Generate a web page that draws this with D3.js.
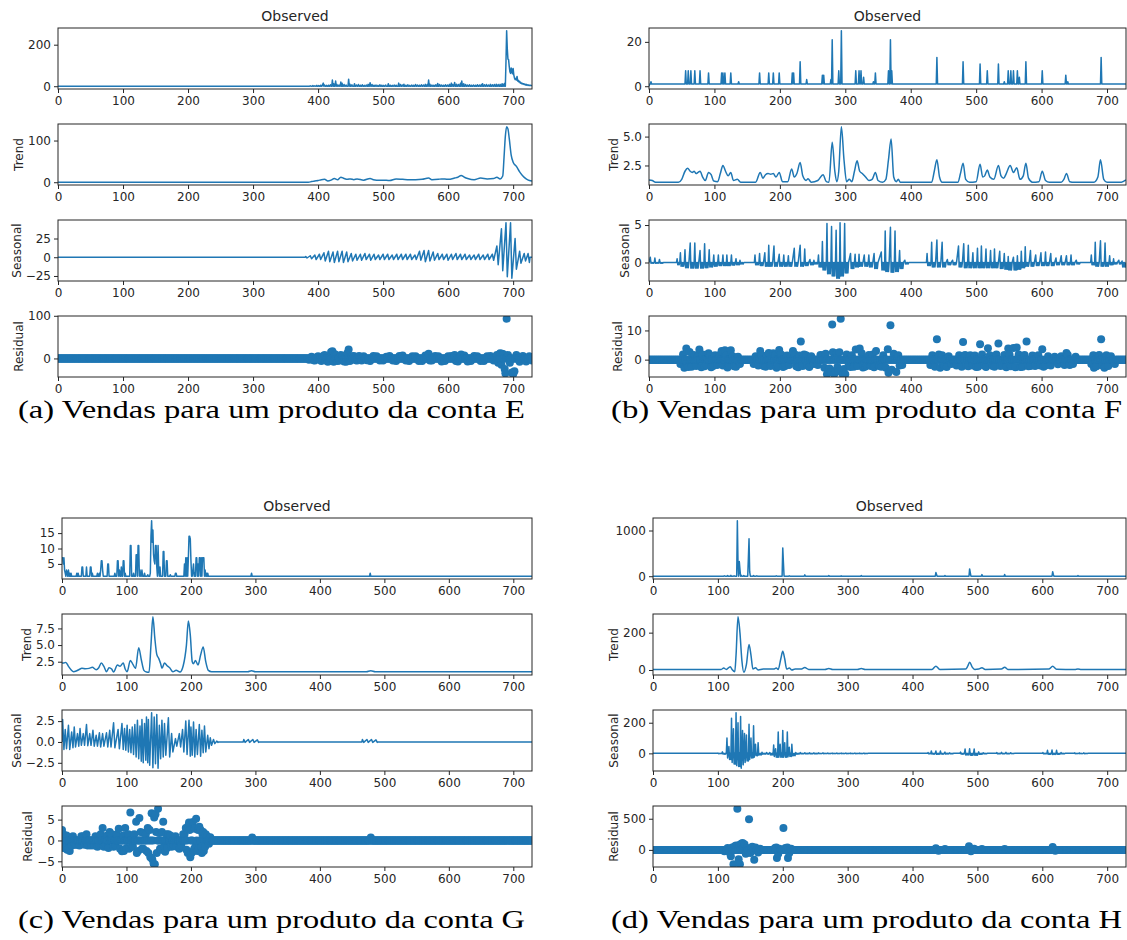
<!DOCTYPE html>
<html>
<head>
<meta charset="utf-8">
<script src="https://cdn.jsdelivr.net/npm/d3@7"></script>
<style>
  html, body { margin: 0; padding: 0; background: #fff; }
  svg { display: block; }
</style>
</head>
<body>
<svg id="chart" width="1127" height="940"></svg>
<script>
// ---------------------------------------------------------------------------
// Daily sales decompositions (730 days) for four products.
// Observed: baseline value plus [day, value] for the days that differ from it.
// Trend: [day, value] points along the smoothed curve.
// Seasonal: weekly cycles as [day, peak, trough].
// Residual: baseline 0 plus [day, value] for the days away from zero.
// ---------------------------------------------------------------------------
const days = 730;

// ---- Conta E ----
const obsBaseE = 0;
const obsE = [[388,2],[392,3],[395,2],[398,4],[401,3],[404,5],[407,8],[408,15],[410,6],[413,4],[416,5],[419,7],[422,30],[424,12],[427,25],[429,8],[432,6],[435,20],[437,14],[440,8],[443,6],[447,34],[449,10],[452,7],[456,12],[459,6],[462,8],[465,5],[468,7],[471,4],[474,6],[477,9],[480,17],[483,8],[486,5],[489,6],[492,4],[495,7],[498,5],[501,4],[504,6],[508,12],[511,5],[514,4],[517,6],[520,5],[524,15],[527,8],[530,6],[532,10],[535,5],[538,7],[541,4],[544,6],[547,5],[550,8],[553,6],[556,5],[559,7],[562,6],[565,9],[568,8],[570,30],[572,10],[575,6],[578,5],[581,7],[584,13],[587,8],[590,6],[593,5],[596,7],[599,6],[602,9],[605,15],[607,8],[610,18],[613,10],[616,8],[619,14],[621,25],[624,12],[627,8],[630,6],[633,7],[636,5],[639,6],[642,5],[645,7],[648,6],[651,8],[653,12],[656,7],[659,8],[662,6],[665,9],[668,7],[671,8],[674,10],[677,8],[680,9],[683,12],[685,10],[687,14],[689,120],[690,267],[691,180],[692,130],[693,128],[694,95],[695,70],[696,62],[697,88],[698,80],[699,60],[700,85],[701,55],[702,40],[703,32],[704,38],[705,30],[706,47],[707,25],[708,28],[709,20],[710,24],[711,15],[712,18],[713,12],[714,14],[715,10],[716,12],[717,8],[718,10],[719,6],[720,9],[721,5],[722,7],[723,4],[724,6],[725,3],[726,5],[727,3],[728,4],[729,2]];
const trendE = [[0,0],[385,0],[390,1.5],[395,3],[400,4],[405,6],[410,7],[415,3],[420,5],[425,9],[430,6],[435,12],[440,9],[445,7],[450,8],[455,6],[460,8],[470,5],[480,9],[485,6],[490,5],[500,5],[510,4],[520,8],[530,7],[540,6],[550,6],[560,7],[570,10],[575,6],[585,7],[590,8],[600,7],[610,10],[615,12],[620,16],[625,12],[630,9],[640,6],[650,10],[660,8],[670,9],[675,12],[680,8],[684,15],[686,60],[688,110],[690,133],[692,128],[694,105],[697,65],[700,48],[705,38],[710,25],[715,15],[720,8],[725,4],[729,3]];
const seasE = [[381,1,-1],[388,2,-2],[395,3,-3],[402,4,-3],[409,6,-5],[416,8,-6],[423,7,-7],[430,8,-6],[437,8,-7],[444,7,-6],[451,5,-5],[458,4,-4],[465,4,-4],[472,5,-3],[479,4,-4],[486,4,-3],[493,3,-3],[500,4,-3],[507,4,-3],[514,3,-3],[521,4,-3],[528,4,-3],[535,4,-3],[542,4,-3],[549,3,-3],[556,8,-4],[563,9,-6],[570,9,-5],[577,7,-4],[584,5,-3],[591,4,-3],[598,4,-4],[605,4,-3],[612,5,-3],[619,4,-3],[626,4,-3],[633,3,-3],[640,3,-3],[647,4,-3],[654,3,-3],[661,4,-3],[668,4,-4],[675,15,-10],[682,38,-18],[689,46,-26],[696,46,-28],[703,25,-16],[710,8,-8],[717,5,-5],[723,5,-7]];
const residE = [[386,-3],[390,4],[393,-4],[395,-5],[398,3],[400,5],[403,-3],[405,-6],[408,6],[410,8],[412,-5],[415,-8],[418,-6],[420,15],[422,17],[424,-8],[426,10],[428,7],[430,-6],[433,-5],[435,8],[438,6],[440,-7],[443,-8],[445,12],[447,21],[449,-6],[452,5],[455,6],[458,-4],[460,-5],[463,6],[467,-5],[470,5],[475,-4],[480,-6],[485,6],[490,5],[495,-5],[500,-5],[505,4],[510,6],[515,-5],[520,-6],[525,6],[530,7],[535,-5],[540,-6],[545,5],[550,5],[555,-6],[560,-6],[565,7],[570,11],[572,-5],[575,-5],[580,6],[585,5],[590,-7],[595,-6],[600,5],[605,6],[610,8],[612,-6],[615,-7],[620,9],[625,7],[630,-7],[635,-6],[640,6],[645,5],[650,-6],[655,-6],[660,5],[665,6],[670,-5],[675,8],[677,-10],[680,12],[682,-15],[683,11],[685,10],[687,-25],[688,-35],[690,93],[692,8],[695,-10],[698,-33],[700,-37],[702,-30],[705,8],[710,-8],[715,6],[720,-7],[725,5],[729,-5]];

// ---- Conta F ----
const obsBaseF = 1;
const obsF = [[0,0],[3,2],[56,7],[60,7],[64,7],[70,7],[78,7],[91,6],[111,6],[113,6],[116,6],[125,6],[137,2],[169,6],[183,6],[190,6],[199,6],[219,6],[221,6],[231,11],[241,3],[265,5],[267,5],[278,3],[280,21],[290,7],[294,25],[316,7],[321,7],[324,7],[328,4],[343,2],[346,6],[366,7],[369,21],[371,7],[440,13],[480,11],[506,10],[517,7],[534,10],[543,2],[549,7],[553,7],[557,7],[563,7],[566,4],[576,11],[601,7],[637,5],[640,2],[691,13]];
const trendF = [[0,1.25],[5,1.2],[10,1.05],[45,1.05],[50,1.3],[55,2.0],[59,2.25],[63,2.0],[66,1.9],[69,2.0],[72,1.8],[75,1.9],[78,2.0],[82,1.5],[86,1.2],[91,1.9],[95,1.7],[99,1.15],[105,1.1],[109,1.8],[113,2.5],[117,2.0],[121,1.6],[125,1.9],[129,1.2],[135,1.3],[140,1.05],[163,1.05],[170,1.9],[174,1.4],[178,1.7],[182,1.8],[186,1.75],[190,1.8],[194,1.5],[199,1.9],[204,1.1],[212,1.1],[218,2.2],[222,1.5],[226,1.8],[231,2.75],[235,1.6],[240,1.2],[243,1.35],[248,1.05],[258,1.2],[266,1.7],[271,1.1],[275,1.05],[280,4.5],[284,2.0],[287,1.1],[290,2.0],[294,5.85],[298,3.0],[302,1.1],[306,1.3],[310,1.1],[314,2.0],[318,2.9],[322,2.0],[326,1.8],[331,1.5],[336,1.2],[341,1.3],[346,1.9],[350,1.2],[357,1.05],[362,1.3],[366,3.0],[370,4.8],[374,1.5],[378,1.1],[381,1.3],[384,1.05],[432,1.05],[436,2.0],[440,3.0],[444,1.5],[448,1.05],[472,1.05],[476,1.8],[480,2.7],[484,1.3],[490,1.05],[500,1.1],[506,2.6],[510,1.5],[513,1.6],[517,2.1],[521,1.5],[527,1.3],[534,2.5],[538,1.6],[542,1.4],[546,1.8],[552,2.5],[557,1.9],[562,2.3],[567,1.3],[572,1.6],[576,2.7],[580,1.4],[586,1.05],[596,1.1],[601,2.0],[606,1.2],[612,1.05],[630,1.05],[634,1.3],[638,1.8],[643,1.1],[650,1.05],[680,1.05],[686,1.5],[690,3.0],[695,1.3],[700,1.05],[722,1.05],[729,1.25]];
const seasF = [[2,0.7,-0.1],[9,0.6,-0.1],[16,0.4,-0.1],[43,0.5,-0.3],[48,1.3,-0.5],[55,1.7,-0.7],[63,2.6,-0.75],[70,2.6,-0.75],[78,1.6,-0.75],[85,2.5,-0.7],[92,1.7,-0.6],[99,1.0,-0.5],[106,1.0,-0.4],[113,1.0,-0.4],[119,1.0,-0.4],[126,1.0,-0.35],[133,0.5,-0.3],[139,0.3,-0.2],[162,1.0,-0.3],[169,1.2,-0.4],[177,1.3,-0.5],[183,2.3,-0.5],[191,2.2,-0.5],[199,1.1,-0.5],[206,1.0,-0.5],[213,0.9,-0.5],[222,1.9,-0.5],[231,2.3,-0.5],[238,1.8,-0.4],[246,0.4,-0.3],[252,0.3,-0.2],[259,1.0,-0.6],[265,2.8,-1.0],[272,5.2,-1.5],[279,4.8,-1.8],[286,4.3,-2.1],[292,5.3,-1.8],[299,5.2,-1.4],[308,1.2,-0.8],[315,1.1,-0.6],[321,1.1,-0.5],[329,1.0,-0.5],[336,1.0,-0.6],[344,1.2,-0.8],[355,1.4,-1.0],[361,4.2,-1.2],[369,4.7,-1.3],[376,4.2,-1.2],[383,1.6,-0.8],[391,0.3,-0.2],[425,1.2,-0.4],[432,2.7,-0.6],[440,3.0,-0.6],[448,2.7,-0.6],[456,0.4,-0.3],[464,0.3,-0.3],[473,2.2,-0.6],[481,2.5,-0.7],[488,2.3,-0.7],[495,1.3,-0.7],[502,1.9,-0.7],[508,2.2,-0.7],[515,1.8,-0.7],[522,1.6,-0.7],[528,1.8,-0.7],[536,1.5,-0.8],[543,1.2,-0.9],[549,0.8,-1.0],[557,0.7,-1.0],[563,0.9,-0.9],[569,1.5,-0.7],[575,2.1,-0.5],[583,1.6,-0.5],[591,1.0,-0.4],[599,1.3,-0.4],[606,1.4,-0.4],[614,1.2,-0.4],[622,0.6,-0.3],[630,0.9,-0.3],[638,0.9,-0.3],[645,1.0,-0.3],[653,0.3,-0.2],[676,1.0,-0.3],[682,2.7,-0.5],[690,2.9,-0.5],[697,2.6,-0.5],[704,0.9,-0.3],[710,0.5,-0.2],[718,0.3,-0.2],[723,0.2,-0.6]];
const residF = [[48,-1.5],[52,1.8],[54,-2.8],[57,3.8],[58,-1.8],[60,-2.5],[62,2.6],[65,-2.4],[67,1.6],[70,1.5],[72,-2.2],[75,1.2],[77,3.5],[80,-2.6],[82,1.8],[85,-2.3],[88,-1.8],[91,2.2],[93,1.4],[95,-2.6],[98,-2.2],[101,1.5],[104,-1.8],[108,1.6],[111,3.0],[113,-2.0],[116,3.2],[118,1.4],[120,-2.7],[122,-2.0],[125,3.2],[128,1.2],[130,-2.3],[133,-2.4],[136,1.0],[139,-1.5],[160,-1.5],[163,1.2],[167,-2.0],[170,3.0],[172,1.5],[175,-2.2],[178,-2.4],[180,1.4],[183,2.3],[186,-2.2],[188,1.2],[190,2.2],[193,1.6],[195,-2.8],[197,-2.0],[199,3.3],[202,1.8],[205,-2.5],[208,-2.2],[211,1.4],[214,-1.8],[217,1.2],[220,3.0],[223,1.8],[225,-2.3],[228,-2.6],[230,1.4],[232,6.2],[235,-2.2],[237,1.8],[240,1.5],[242,-2.0],[245,-2.5],[248,1.2],[252,-1.5],[258,-1.8],[262,1.6],[265,1.5],[268,-2.8],[270,2],[272,-5],[274,-3.5],[276,-3],[278,-4.2],[280,12],[281,2.5],[283,-5],[285,-3.8],[287,2.2],[288,-2.5],[290,-4],[291,2.5],[293,14],[296,-5],[298,-3.2],[300,-5],[302,1.8],[305,-2],[308,-2.5],[310,1.5],[313,-2.4],[316,3.5],[319,-2.2],[322,3.8],[325,2.2],[327,-2.7],[330,-2.4],[333,-2],[336,1.6],[339,-2.2],[342,1.8],[344,-2.6],[347,3.0],[350,-1.8],[352,-2.2],[355,-2.4],[358,1.5],[362,-2.8],[365,3.6],[366,-4.5],[369,11.8],[371,-3.5],[374,2],[378,-4.2],[381,1.5],[383,-2],[387,-1.8],[430,-1.8],[433,1.5],[437,-2.4],[440,7],[443,1.8],[445,-2.8],[448,1.5],[450,-1.8],[452,-2.2],[455,-2.5],[458,1.2],[462,-1.5],[470,-2.0],[474,1.5],[478,-2.4],[480,6],[483,1.6],[485,-2],[488,-2.3],[491,1.5],[495,-2.0],[498,1.4],[500,-2.5],[503,-2.4],[506,5.3],[509,1.8],[512,-2],[515,-2.5],[518,3.9],[521,1.5],[525,-2.2],[528,-2.4],[531,1.8],[534,5.5],[537,-2.2],[540,-2],[543,1.6],[546,-2.6],[549,3.8],[551,1.8],[553,-2.3],[557,4.0],[560,-2.6],[562,4.2],[565,1.8],[568,-2.5],[571,-2.4],[574,1.6],[577,6.2],[580,-2.3],[583,-2.2],[586,1.4],[590,-2.2],[595,1.5],[598,-2.0],[601,3.6],[603,-2.4],[606,-2],[610,1.2],[614,-2.0],[620,1.0],[625,-1.6],[630,1.2],[635,-1.8],[638,2.3],[640,1.6],[643,-1.8],[648,-1.5],[652,1.0],[676,-1.5],[679,1.5],[680,-2.8],[684,-2.3],[688,1.6],[691,7.0],[693,-2.0],[696,-2.8],[699,1.5],[702,-2.2],[706,1.2],[712,-1.5]];

// ---- Conta G ----
const obsBaseG = 1;
const obsG = [[0,7],[1,7],[2,5],[3,7],[4,3],[5,2],[7,3],[8,2],[10,3],[12,2],[14,2],[23,2],[25,2],[31,4],[32,4],[38,4],[44,4],[45,4],[47,2],[55,2],[58,2],[60,3],[61,6],[62,6],[63,3],[71,5],[72,5],[82,2],[86,6],[87,6],[89,3],[92,4],[95,6],[96,6],[98,2],[106,11],[107,11],[111,2],[115,8],[116,8],[118,11],[119,11],[121,3],[124,3],[128,2],[133,1.5],[137,2],[138,14],[139,19],[140,12],[141,16],[142,8],[143,6],[144,5],[145,11],[146,11],[147,4],[149,11],[150,3],[152,4],[157,9],[158,9],[162,6],[163,6],[168,1.5],[176,2],[177,2],[190,5],[192,7],[194,7],[196,7],[197,14],[198,14],[199,13],[200,6],[203,3],[204,5],[206,2],[208,7],[209,7],[211,5],[213,7],[214,7],[216,7],[218,7],[219,7],[220,7],[222,3],[224,2],[226,2],[294,2],[478,2]];
const trendG = [[0,2.3],[3,2.3],[6,2.4],[10,1.8],[14,1.3],[18,1.0],[22,1.1],[26,1.3],[31,1.5],[36,1.45],[42,1.5],[47,1.65],[53,1.3],[57,1.6],[61,2.3],[65,1.8],[69,1.0],[73,1.6],[77,1.4],[80,0.95],[86,2.0],[90,1.8],[95,2.3],[98,1.4],[101,1.0],[106,2.7],[110,2.1],[114,1.5],[119,4.6],[123,2.8],[127,1.2],[131,0.95],[135,0.92],[138,5],[141,9.25],[144,6.0],[147,3.6],[150,3.0],[153,2.2],[155,1.5],[159,2.3],[163,1.9],[167,1.6],[172,1.0],[177,1.2],[183,0.95],[188,1.9],[193,5.0],[196,8.6],[199,6.5],[202,2.5],[204,2.2],[207,2.7],[211,2.0],[215,3.5],[219,4.7],[223,2.5],[227,1.2],[232,1.0],[288,1.0],[294,1.15],[300,1.0],[472,1.0],[479,1.15],[486,1.0],[729,1.0]];
const seasG = [[1,2.7,-0.9],[5,1.5,-0.8],[10,2.0,-0.9],[15,1.2,-0.7],[19,1.8,-0.6],[24,1.0,-0.5],[28,1.6,-0.4],[33,1.0,-0.4],[38,2.1,-0.45],[43,1.0,-0.4],[48,1.4,-0.5],[53,0.8,-0.5],[58,1.1,-0.6],[63,1.0,-0.5],[69,1.1,-0.6],[74,1.4,-0.6],[80,2.3,-0.7],[87,1.5,-0.8],[93,2.2,-0.9],[97,1.6,-1.0],[101,2.0,-1.2],[105,1.5,-1.3],[109,1.8,-1.5],[113,2.1,-1.8],[117,2.6,-2.0],[121,1.9,-2.3],[124,2.7,-2.5],[128,2.2,-2.2],[131,3.0,-2.5],[134,2.7,-2.8],[139,3.5,-3.1],[143,3.0,-2.6],[147,3.3,-3.15],[151,2.0,-2.0],[155,2.6,-1.8],[159,2.2,-1.6],[165,2.9,-1.8],[170,1.0,-1.2],[176,0.4,-0.5],[182,1.0,-0.6],[187,1.5,-1.2],[192,2.5,-1.5],[197,2.6,-1.7],[200,1.8,-1.6],[204,2.4,-1.8],[208,1.5,-1.5],[213,2.1,-1.7],[217,1.4,-1.3],[221,1.9,-1.2],[226,0.8,-0.8],[230,0.5,-0.4],[235,0.3,-0.2],[240,0.1,-0.05],[282,0.3,-0.05],[289,0.3,-0.05],[296,0.3,-0.05],[303,0.25,-0.05],[466,0.3,-0.05],[473,0.3,-0.05],[480,0.3,-0.05],[487,0.25,-0.05]];
const residG = [[0,2.5],[2,1.5],[3,-1.8],[5,-1.5],[7,1.2],[8,-2.2],[10,-2.0],[12,-2.5],[15,-1.2],[17,1.0],[20,-1],[22,-1.0],[27,-1.2],[30,1],[33,1.0],[35,-1.0],[38,1.5],[40,-1.2],[45,-1.2],[50,-1.2],[52,1.0],[55,-1.5],[58,-1.2],[60,1.5],[63,3.0],[65,-1.5],[68,-1],[70,1.2],[72,-1.8],[74,2],[77,1.5],[80,-1.5],[83,-1.2],[85,1.5],[88,2.8],[90,-2.0],[93,-2.6],[95,1.2],[96,-2.5],[98,3.0],[100,-1.8],[103,1.5],[104,-2.0],[106,6.7],[108,-1.5],[110,-1.5],[112,1.5],[115,4.5],[116,-3.0],[118,-2.5],[120,5.4],[122,2.0],[124,-2],[126,-2.0],[127,1.8],[130,1.5],[131,-2.5],[133,3.0],[134,-3.0],[136,2.5],[137,-4.0],[139,6.5],[140,-4.5],[142,-5.5],[143,5.5],[144,-5.7],[145,6.3],[146,2.0],[147,-3],[149,7.6],[151,1.8],[152,-2],[154,-2.2],[155,2.0],[157,4.5],[158,-1.5],[160,-2.7],[162,1.5],[163,-1.8],[165,1.5],[168,1.2],[170,-1.5],[173,-1.2],[176,1.0],[178,-1.5],[182,-2],[185,-1.2],[188,1.5],[190,1.5],[192,3.0],[193,-2.2],[195,-3.0],[196,3.5],[197,4.3],[198,2.5],[199,-4.0],[201,-3.0],[203,4.4],[204,-2.5],[205,-2],[206,2.8],[207,-1.5],[208,5.2],[210,-2.5],[211,2.5],[212,-2.0],[213,3.3],[215,2.5],[216,-1.5],[217,-3.0],[218,1.5],[219,2.0],[220,-2.5],[222,-1.5],[223,1.5],[225,1.0],[228,-0.8],[230,0.8],[295,0.7],[479,0.7]];

// ---- Conta H ----
const obsBaseH = 0;
const obsH = [[110,10],[115,15],[120,20],[125,10],[130,1213],[131,300],[133,320],[134,150],[136,20],[140,15],[147,400],[148,820],[149,100],[155,15],[160,10],[190,10],[200,620],[201,300],[210,10],[234,30],[271,15],[290,8],[321,15],[436,80],[437,40],[450,15],[488,160],[489,80],[507,35],[542,40],[616,100],[617,40],[655,15]];
const trendH = [[0,3],[105,3],[109,10],[113,3],[119,18],[122,2],[126,-10],[128,80],[131,285],[134,200],[137,50],[140,-12],[144,30],[148,137],[151,80],[154,5],[158,12],[162,0],[170,5],[186,5],[190,10],[193,3],[197,60],[200,100],[203,60],[206,5],[210,10],[214,0],[219,5],[228,5],[234,13],[240,3],[265,3],[271,8],[277,3],[315,3],[321,8],[327,3],[430,3],[436,20],[442,3],[482,5],[485,20],[488,42],[492,15],[496,3],[502,5],[507,12],[512,3],[537,5],[542,15],[547,3],[610,5],[616,20],[622,4],[650,3],[655,5],[660,3],[729,3]];
const seasH = [[100,2,-2],[107,10,-5],[114,100,-30],[117,45,-40],[121,230,-60],[124,160,-70],[128,265,-80],[131,200,-85],[135,240,-97],[138,150,-75],[141,130,-60],[144,120,-50],[148,190,-40],[151,100,-30],[155,180,-25],[158,60,-15],[162,70,-10],[168,8,-5],[175,5,-5],[180,5,-10],[186,55,-20],[189,30,-25],[193,140,-25],[196,60,-25],[200,150,-25],[203,70,-25],[207,140,-22],[210,40,-20],[214,60,-15],[220,5,-5],[227,5,-3],[234,4,-3],[241,4,-3],[248,3,-3],[255,3,-2],[262,3,-2],[269,2,-2],[276,2,-2],[283,2,-2],[290,2,-2],[297,2,-2],[304,2,-2],[311,2,-2],[318,2,-2],[325,2,-2],[424,5,-3],[429,15,-5],[436,16,-6],[443,15,-5],[450,8,-4],[457,3,-3],[474,8,-5],[481,28,-10],[488,30,-12],[495,28,-12],[502,10,-6],[509,4,-3],[530,5,-3],[537,7,-3],[544,7,-3],[551,4,-2],[601,5,-3],[608,20,-6],[615,22,-7],[622,20,-6],[629,5,-3],[650,3,-2],[657,3,-2],[664,3,-2]];
const residH = [[110,-20],[115,30],[118,-40],[120,-100],[122,40],[124,-230],[126,60],[128,70],[130,660],[132,-150],[133,80],[134,-230],[136,100],[138,110],[140,50],[141,90],[143,-60],[145,30],[148,490],[150,-50],[153,50],[156,-160],[158,40],[162,-40],[165,20],[188,30],[190,40],[191,-130],[193,-60],[195,20],[201,350],[204,30],[207,40],[208,-130],[210,-50],[213,20],[436,25],[440,-15],[450,15],[487,60],[490,-20],[495,20],[507,15],[542,15],[616,45],[620,-15]];

// ---- Axis ticks ----
const xTicks = [0, 100, 200, 300, 400, 500, 600, 700];
const yTicksE = { obs: [0, 200], trend: [0, 100], seas: [-25, 0, 25], resid: [0, 100] };
const yTicksF = { obs: [0, 20], trend: [2.5, 5.0], seas: [0, 5], resid: [0, 10] };
const yTicksG = { obs: [5, 10, 15], trend: [2.5, 5.0, 7.5], seas: [-2.5, 0.0, 2.5], resid: [-5, 0, 5] };
const yTicksH = { obs: [0, 1000], trend: [0, 200], seas: [0, 200], resid: [0, 500] };
const yFormatsE = { obs: 'd', trend: 'd', seas: 'd', resid: 'd' };
const yFormatsF = { obs: 'd', trend: '.1f', seas: 'd', resid: 'd' };
const yFormatsG = { obs: 'd', trend: '.1f', seas: '.1f', resid: 'd' };
const yFormatsH = { obs: 'd', trend: 'd', seas: 'd', resid: 'd' };

const captions = [
  '(a) Vendas para um produto da conta E',
  '(b) Vendas para um produto da conta F',
  '(c) Vendas para um produto da conta G',
  '(d) Vendas para um produto da conta H'
];

// ---------------------------------------------------------------------------
// Series builders
// ---------------------------------------------------------------------------
function dailySeries(base, pairs) {
  const m = new Map(pairs.map(p => [p[0], p[1]]));
  return d3.range(days).map(d => [d, m.has(d) ? m.get(d) : base]);
}
// Weekly cycles. "zigzag": the peak day, then the trough two days later.
// "spike": a one-day peak followed by daily swings between the trough and zero
// until the next cycle. Quiet stretches between cycles sit on zero.
function seasonalPoints(cycles, style) {
  const pts = [[0, 0]];
  let last = 0;
  cycles.forEach((c, i) => {
    if (c[0] - last > 8) {
      if (last > 0) pts.push([last + 1, 0]);
      pts.push([c[0] - 1, 0]);
    }
    pts.push([c[0], c[1]]);
    if (style === 'spike') {
      const next = cycles[i + 1];
      const span = next ? Math.min(next[0] - c[0], 7) : 7;
      for (let k = 1; k < span && c[0] + k < days; k++) {
        pts.push([c[0] + k, k % 2 ? c[2] : 0]);
      }
      last = Math.min(c[0] + span - 1, days - 1);
    } else {
      pts.push([c[0] + 2, c[2]]);
      last = c[0] + 2;
    }
  });
  if (last + 1 < days - 1) pts.push([last + 1, 0]);
  pts.push([days - 1, 0]);
  return pts;
}

// ---------------------------------------------------------------------------
// Layout
// ---------------------------------------------------------------------------
const blue = '#1f77b4';
const ink = '#262626';
const tickFont = 12;
const svg = d3.select('#chart');

const rowTops = [28, 124, 220, 316];
const rowH = 61;
const rowNames = ['Observed', 'Trend', 'Seasonal', 'Residual'];

const panels = [
  { left: 58,  right: 532,  dy: 0,   capDy: 0,   ticks: yTicksE, fmts: yFormatsE, obsBase: obsBaseE, obs: obsE, trend: trendE, seas: seasE, seasStyle: 'zigzag', resid: residE, cap: captions[0], capX: 18,  capW: 507 },
  { left: 649, right: 1126, dy: 0,   capDy: 0,   ticks: yTicksF, fmts: yFormatsF, obsBase: obsBaseF, obs: obsF, trend: trendF, seas: seasF, seasStyle: 'spike',  resid: residF, cap: captions[1], capX: 611, capW: 511 },
  { left: 62,  right: 532,  dy: 490, capDy: 510, ticks: yTicksG, fmts: yFormatsG, obsBase: obsBaseG, obs: obsG, trend: trendG, seas: seasG, seasStyle: 'zigzag', resid: residG, cap: captions[2], capX: 18,  capW: 507 },
  { left: 653, right: 1126, dy: 490, capDy: 510, ticks: yTicksH, fmts: yFormatsH, obsBase: obsBaseH, obs: obsH, trend: trendH, seas: seasH, seasStyle: 'spike',  resid: residH, cap: captions[3], capX: 611, capW: 511 }
];

function paddedDomain(values) {
  const lo = d3.min(values), hi = d3.max(values);
  const pad = (hi - lo) * 0.05;
  return [lo - pad, hi + pad];
}

let clipId = 0;
panels.forEach(p => {
  const g = svg.append('g');
  const x = d3.scaleLinear().domain([0, days - 1]).range([p.left, p.right]);

  const rows = [
    { key: 'obs',   pts: dailySeries(p.obsBase, p.obs),        kind: 'line' },
    { key: 'trend', pts: p.trend,                               kind: 'curve' },
    { key: 'seas',  pts: seasonalPoints(p.seas, p.seasStyle),   kind: 'line' },
    { key: 'resid', pts: dailySeries(0, p.resid),               kind: 'dots' }
  ];

  rows.forEach((r, ri) => {
    const top = rowTops[ri] + p.dy;
    const bottom = top + rowH;
    const y = d3.scaleLinear().domain(paddedDomain(r.pts.map(d => d[1]))).range([bottom, top]);

    const cid = 'clip' + (clipId++);
    g.append('clipPath').attr('id', cid)
      .append('rect').attr('x', p.left).attr('y', top)
      .attr('width', p.right - p.left).attr('height', rowH);

    const plot = g.append('g').attr('clip-path', `url(#${cid})`);
    if (r.kind === 'dots') {
      plot.selectAll('circle').data(r.pts).join('circle')
        .attr('cx', d => x(d[0])).attr('cy', d => y(d[1]))
        .attr('r', 4).attr('fill', blue);
    } else {
      const line = d3.line().x(d => x(d[0])).y(d => y(d[1]));
      if (r.kind === 'curve') line.curve(d3.curveMonotoneX);
      plot.append('path').datum(r.pts)
        .attr('d', line).attr('fill', 'none')
        .attr('stroke', blue).attr('stroke-width', 1.5)
        .attr('stroke-linejoin', 'round');
    }

    // spines
    g.append('rect').attr('x', p.left).attr('y', top)
      .attr('width', p.right - p.left).attr('height', rowH)
      .attr('fill', 'none').attr('stroke', ink).attr('stroke-width', 1);

    // axes
    const xa = g.append('g').attr('transform', `translate(0,${bottom})`)
      .call(d3.axisBottom(x).tickValues(xTicks).tickFormat(d3.format('d')).tickSize(4).tickPadding(3));
    const ya = g.append('g').attr('transform', `translate(${p.left},0)`)
      .call(d3.axisLeft(y).tickValues(p.ticks[r.key]).tickFormat(d3.format(p.fmts[r.key])).tickSize(4).tickPadding(3));
    [xa, ya].forEach(a => {
      a.select('.domain').remove();
      a.selectAll('line').attr('stroke', ink);
      a.selectAll('text').attr('fill', ink)
        .style('font-family', 'DejaVu Sans, sans-serif').style('font-size', tickFont + 'px');
    });

    if (ri === 0) {
      g.append('text').attr('x', (p.left + p.right) / 2).attr('y', top - 7)
        .attr('text-anchor', 'middle').attr('fill', ink)
        .style('font-family', 'DejaVu Sans, sans-serif').style('font-size', '14px')
        .text(rowNames[0]);
    } else {
      const bb = ya.node().getBBox();
      g.append('text')
        .attr('transform', `translate(${p.left + bb.x - 5},${(top + bottom) / 2}) rotate(-90)`)
        .attr('text-anchor', 'middle').attr('fill', ink)
        .style('font-family', 'DejaVu Sans, sans-serif').style('font-size', '12px')
        .text(rowNames[ri]);
    }
  });

  // caption
  g.append('text').attr('x', p.capX).attr('y', 418 + p.capDy)
    .attr('textLength', p.capW).attr('lengthAdjust', 'spacingAndGlyphs')
    .attr('fill', '#000')
    .style('font-family', 'Liberation Serif, serif').style('font-size', '25px')
    .text(p.cap);
});
</script>
</body>
</html>
